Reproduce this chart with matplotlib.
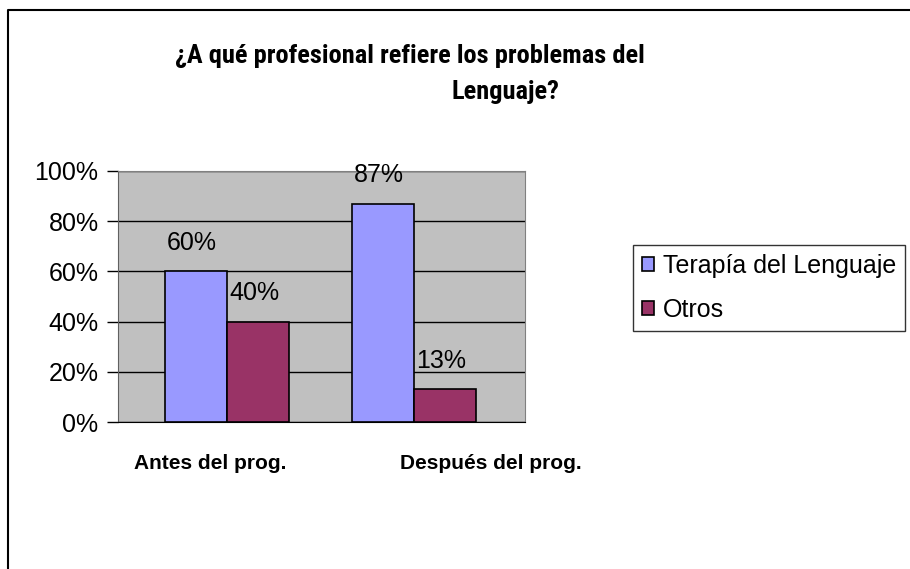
import numpy as np
import matplotlib.pyplot as plt
from matplotlib.lines import Line2D
from matplotlib import font_manager

plt.rcParams['font.family'] = ['Liberation Sans', 'DejaVu Sans']

# Datos
categorias = ["Antes del prog.", "Después del prog."]
terapia = [0.60, 0.87]
otros = [0.40, 0.13]
series = ["Terapía del Lenguaje", "Otros"]
ticks = [0, 0.2, 0.4, 0.6, 0.8, 1.0]

# título en fuente estrecha si hay alguna instalada
fam_titulo, tam_titulo = 'Liberation Sans', 16.5
for fam in ['Liberation Sans Narrow', 'Roboto Condensed', 'DejaVu Sans Condensed']:
    try:
        font_manager.findfont(fam, fallback_to_default=False)
        fam_titulo, tam_titulo = fam, 19
        break
    except Exception:
        pass

W, H = 910, 569
fig = plt.figure(figsize=(W / 100, H / 100), dpi=100)
ax = fig.add_axes([118 / W, 1 - 422 / H, 407 / W, 251 / H])
ax.set_facecolor('#C0C0C0')

x = np.arange(len(categorias))
ancho = 0.332
b1 = ax.bar(x - ancho / 2, terapia, ancho, color='#9999FF', edgecolor='black', lw=1.2, label=series[0], zorder=3)
b2 = ax.bar(x + ancho / 2, otros, ancho, color='#993366', edgecolor='black', lw=1.2, label=series[1], zorder=3)

for bars in (b1, b2):
    for r in bars:
        v = r.get_height()
        ax.text(r.get_x() + r.get_width() / 2 - 0.02, v + 0.115, f"{v:.0%}",
                ha='center', va='center', fontsize=18)

ax.set_xlim(-0.583, 1.594)
ax.set_ylim(0, 1)
ax.set_yticks(ticks)
ax.set_yticklabels([f"{t:.0%}" for t in ticks], fontsize=18)
ax.tick_params(axis='y', direction='out', length=8, width=1, color='black', pad=6)
ax.set_xticks([])
ax.yaxis.grid(True, color='black', lw=1)
ax.set_axisbelow(True)
for s in ('top', 'right'):
    ax.spines[s].set_color('#808080')
ax.spines['left'].set_color('#606060')
ax.spines['bottom'].set_color('black')

# etiquetas de categoría
for c, xc in zip(categorias, [210, 491]):
    fig.text(xc / W, 1 - 469 / H, c, ha='center', va='baseline', fontsize=15, fontweight='bold')

# título
fig.text(410 / W, 1 - 63 / H, "¿A qué profesional refiere los problemas del",
         ha='center', va='baseline', fontsize=tam_titulo, fontweight='bold', family=fam_titulo)
fig.text(505 / W, 1 - 99 / H, "Lenguaje?", ha='center', va='baseline',
         fontsize=tam_titulo, fontweight='bold', family=fam_titulo)

leg = fig.legend(handles=[b1, b2], loc='upper left', bbox_to_anchor=(633 / W, 1 - 245 / H),
                 fontsize=18, frameon=True, fancybox=False, handlelength=0.5, handleheight=0.5,
                 handletextpad=0.35, borderpad=0.35, labelspacing=0.8, borderaxespad=0)
leg.get_frame().set_edgecolor('black')
leg.get_frame().set_linewidth(1)

# borde del gráfico
fig.add_artist(Line2D([8 / W, 8 / W, 1], [0, 1 - 10 / H, 1 - 10 / H], color='black', lw=1.5))

fig.savefig('out.png', dpi=100)
